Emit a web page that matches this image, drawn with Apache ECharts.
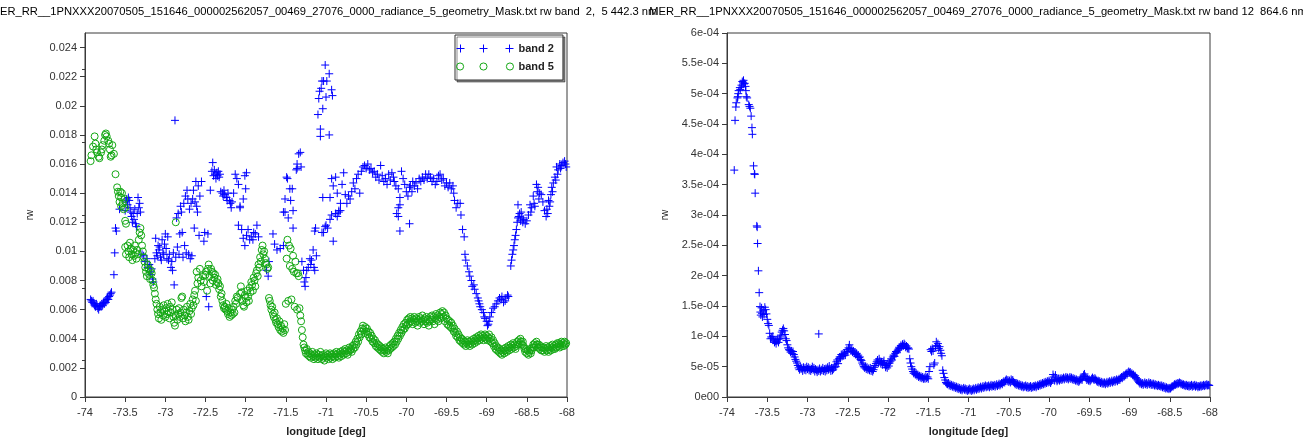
<!DOCTYPE html>
<html>
<head>
<meta charset="utf-8">
<script src="https://cdn.jsdelivr.net/npm/echarts@6/dist/echarts.min.js"></script>
<style>html,body{margin:0;padding:0;background:#fff;}#c{width:1303px;height:444px;}</style>
</head>
<body>
<div id="c"></div>
<script>
// ---------- titles / labels ----------
const leftTitle = "MER_RR__1PNXXX20070505_151646_000002562057_00469_27076_0000_radiance_5_geometry_Mask.txt rw band  2,  5 442.3 nm";
const rightTitle = "MER_RR__1PNXXX20070505_151646_000002562057_00469_27076_0000_radiance_5_geometry_Mask.txt rw band 12  864.6 nm";
const xName = "longitude [deg]";
const yName = "rw";
const legendNames = ["band 2", "band 5"];
const xTicks = [-74, -73.5, -73, -72.5, -72, -71.5, -71, -70.5, -70, -69.5, -69, -68.5, -68];
const leftYTicks = [0, 0.002, 0.004, 0.006, 0.008, 0.01, 0.012, 0.014, 0.016, 0.018, 0.02, 0.022, 0.024];
const rightYTicks = [0, 5e-5, 1e-4, 1.5e-4, 2e-4, 2.5e-4, 3e-4, 3.5e-4, 4e-4, 4.5e-4, 5e-4, 5.5e-4, 6e-4];
const rightYTickLabels = ["0e00", "5e-05", "1e-04", "1.5e-04", "2e-04", "2.5e-04", "3e-04", "3.5e-04", "4e-04", "4.5e-04", "5e-04", "5.5e-04", "6e-04"];

// ---------- band 2 (blue +), left panel: [longitude, rw] ----------
const band2 = [
[-73.93,0.0067],[-73.92,0.0066],[-73.91,0.0065],[-73.9,0.0066],[-73.89,0.0064],[-73.88,0.0063],[-73.87,0.0062],[-73.86,0.0064],[-73.85,0.0063],[-73.84,0.0061],[-73.83,0.0060],[-73.82,0.0062],[-73.81,0.0063],[-73.8,0.0062],[-73.79,0.0064],[-73.78,0.0063],[-73.77,0.0065],[-73.76,0.0064],[-73.75,0.0066],[-73.74,0.0065],[-73.73,0.0067],[-73.72,0.0068],[-73.71,0.0067],[-73.7,0.0069],[-73.69,0.0070],[-73.68,0.0071],[-73.67,0.0072],
[-73.64,0.0084],[-73.63,0.0099],[-73.62,0.0116],[-73.61,0.0114],
[-73.57,0.0129],[-73.5,0.0128],[-73.49,0.0134],[-73.48,0.0136],[-73.47,0.0132],[-73.46,0.0137],[-73.45,0.0135],[-73.44,0.0130],[-73.43,0.0127],[-73.42,0.0124],[-73.41,0.0120],[-73.4,0.0126],[-73.39,0.0122],[-73.38,0.0129],[-73.37,0.0119],[-73.36,0.0117],[-73.35,0.0126],[-73.34,0.0137],[-73.33,0.0130],[-73.32,0.0133],[-73.31,0.0127],
[-73.29,0.0098],[-73.27,0.0097],[-73.25,0.0093],[-73.23,0.0095],[-73.22,0.0089],[-73.2,0.0091],[-73.19,0.0086],[-73.18,0.0084],[-73.17,0.0088],[-73.16,0.0081],[-73.15,0.0079],
[-73.13,0.0095],[-73.12,0.0109],[-73.11,0.0099],[-73.1,0.0097],[-73.09,0.0104],[-73.08,0.0101],[-73.07,0.0103],[-73.06,0.0096],[-73.05,0.0094],[-73.04,0.0108],[-73.03,0.0099],[-73.02,0.0098],[-73.01,0.0105],[-73.0,0.0112],[-72.99,0.0102],[-72.98,0.0095],[-72.97,0.0110],[-72.96,0.0094],[-72.95,0.0098],[-72.93,0.0089],[-72.92,0.0093],[-72.91,0.0087],[-72.9,0.0099],[-72.89,0.0077],[-72.88,0.0190],[-72.87,0.0096],[-72.86,0.0123],[-72.85,0.0103],[-72.84,0.0126],[-72.83,0.0098],[-72.82,0.0112],[-72.81,0.0131],[-72.8,0.0127],[-72.79,0.0113],[-72.78,0.0096],[-72.77,0.0133],[-72.76,0.0104],[-72.75,0.0138],[-72.74,0.0099],[-72.73,0.0142],[-72.72,0.0136],[-72.71,0.0098],[-72.7,0.0129],[-72.69,0.0095],[-72.68,0.0133],[-72.67,0.0097],[-72.66,0.0136],[-72.65,0.0142],[-72.64,0.0116],[-72.63,0.0134],[-72.62,0.0148],[-72.61,0.0131],[-72.6,0.0127],[-72.59,0.0145],[-72.58,0.0111],[-72.57,0.0138],[-72.55,0.0148],
[-72.52,0.0107],[-72.51,0.0113],[-72.49,0.0069],[-72.46,0.0062],[-72.47,0.0112],
[-72.44,0.0142],[-72.42,0.0155],[-72.41,0.0161],[-72.4,0.0152],[-72.39,0.0156],[-72.38,0.0153],[-72.37,0.0150],[-72.36,0.0154],[-72.35,0.0152],[-72.34,0.0155],[-72.33,0.0151],[-72.32,0.0153],[-72.31,0.0141],[-72.29,0.0140],[-72.28,0.0138],[-72.27,0.0142],[-72.26,0.0139],[-72.24,0.0137],[-72.23,0.0135],[-72.22,0.0140],[-72.2,0.0135],[-72.19,0.0133],[-72.18,0.0130],[-72.17,0.0134],
[-72.15,0.0140],[-72.13,0.0153],[-72.11,0.0150],[-72.09,0.0146],[-72.07,0.0131],[-72.03,0.0136],[-72.01,0.0152],[-71.99,0.0154],[-72.0,0.0143],
[-72.09,0.0118],[-72.07,0.0130],[-72.05,0.0115],[-72.03,0.0109],[-72.01,0.0104],[-71.99,0.0111],[-71.97,0.0115],[-71.95,0.0108],[-71.93,0.0110],[-71.91,0.0108],[-71.9,0.0113],[-71.88,0.0112],[-71.86,0.0118],[-71.84,0.0110],
[-71.74,0.0087],[-71.72,0.0083],[-71.71,0.0093],[-71.66,0.0112],[-71.64,0.0105],[-71.61,0.0101],[-71.57,0.0102],[-71.53,0.0104],[-71.53,0.0127],[-71.47,0.0123],[-71.41,0.0116],
[-71.49,0.0151],[-71.48,0.0150],[-71.45,0.0143],[-71.42,0.0143],[-71.51,0.0136],[-71.44,0.0135],[-71.41,0.0128],[-71.51,0.0127],[-71.36,0.0160],[-71.36,0.0157],[-71.37,0.0156],[-71.34,0.0167],[-71.32,0.0168],[-71.31,0.0158],
[-71.3,0.0093],[-71.28,0.0087],[-71.27,0.0079],[-71.26,0.0076],[-71.25,0.0082],[-71.24,0.0087],[-71.22,0.0089],[-71.2,0.0095],[-71.19,0.0091],[-71.18,0.0094],[-71.16,0.0101],[-71.15,0.0089],[-71.14,0.0087],[-71.12,0.0097],[-71.13,0.0116],[-71.14,0.0114],[-71.05,0.0113],[-71.01,0.0117],
[-71.1,0.0194],[-71.09,0.0205],[-71.08,0.0210],[-71.07,0.0184],[-71.07,0.0179],[-71.05,0.0217],[-71.04,0.0198],[-71.03,0.0217],[-71.01,0.0228],[-71.0,0.0206],[-70.99,0.0217],[-70.96,0.0222],[-70.96,0.0180],[-70.93,0.0211],[-70.92,0.0207],[-71.06,0.0212],
[-71.03,0.0113],[-71.0,0.0118],[-70.98,0.0116],[-70.95,0.0122],[-70.93,0.0125],[-70.91,0.0107],[-70.88,0.0126],[-70.86,0.0124],[-70.84,0.0127],[-70.82,0.0128],
[-71.04,0.0137],[-70.95,0.0137],[-70.93,0.0150],[-70.91,0.0145],[-70.88,0.0151],[-70.86,0.0140],[-70.84,0.0128],[-70.82,0.0133],[-70.8,0.0146],[-70.78,0.0154],[-70.76,0.0139],[-70.74,0.0133],[-70.72,0.0138],[-70.7,0.0136],[-70.68,0.0141],[-70.66,0.0147],[-70.64,0.0143],[-70.62,0.0150],[-70.6,0.0153],[-70.58,0.0140],[-70.56,0.0155],[-70.54,0.0158],[-70.52,0.0159],[-70.5,0.0157],[-70.48,0.0160],[-70.46,0.0156],[-70.44,0.0157],[-70.42,0.0154],[-70.4,0.0155],[-70.38,0.0151],[-70.36,0.0153],[-70.34,0.0149],[-70.32,0.0159],[-70.3,0.0152],[-70.28,0.0148],[-70.26,0.0150],[-70.24,0.0146],[-70.22,0.0153],[-70.2,0.0149],[-70.18,0.0154],[-70.16,0.0151],[-70.15,0.0148],[-70.13,0.0145],[-70.1,0.0143],[-70.08,0.0137],[-70.1,0.0130],[-70.12,0.0126],[-70.08,0.0132],[-70.1,0.0124],[-70.08,0.0114],[-70.06,0.0155],[-70.04,0.0150],[-69.96,0.0119],
[-70.02,0.0146],[-70.0,0.0141],[-69.98,0.0138],[-69.96,0.0144],[-69.95,0.0145],[-69.93,0.0141],[-69.92,0.0148],[-69.9,0.0145],[-69.88,0.0147],[-69.86,0.0143],[-69.84,0.0150],[-69.82,0.0148],[-69.8,0.0151],[-69.78,0.0149],[-69.76,0.0153],[-69.74,0.0150],[-69.72,0.0153],[-69.7,0.0151],[-69.68,0.0148],[-69.66,0.0150],[-69.64,0.0146],[-69.62,0.0148],[-69.6,0.0152],[-69.58,0.0153],[-69.56,0.0149],[-69.54,0.0150],[-69.52,0.0145],[-69.5,0.0147],[-69.48,0.0144],[-69.46,0.0147],[-69.44,0.0143],[-69.42,0.0145],[-69.41,0.0140],[-69.4,0.0135],[-69.38,0.0130],[-69.36,0.0133],
[-69.33,0.0133],[-69.32,0.0125],[-69.3,0.0115],[-69.28,0.0110],[-69.27,0.0098],[-69.26,0.0094],[-69.24,0.0090],[-69.22,0.0086],[-69.21,0.0083],[-69.19,0.0080],[-69.18,0.0076],[-69.16,0.0077],[-69.15,0.0074],[-69.13,0.0071],[-69.11,0.0068],[-69.1,0.0066],[-69.09,0.0064],[-69.08,0.0062],[-69.06,0.0060],[-69.04,0.0058],[-69.03,0.0055],[-69.02,0.0054],[-69.0,0.0052],[-68.99,0.0049],[-68.98,0.0050],[-68.97,0.0052],[-68.96,0.0055],[-68.94,0.0058],[-68.92,0.0061],[-68.9,0.0062],[-68.88,0.0064],[-68.86,0.0066],[-68.84,0.0068],[-68.82,0.0067],[-68.81,0.0069],[-68.79,0.0065],[-68.77,0.0066],[-68.76,0.0068],[-68.74,0.0070],[-68.73,0.0069],
[-68.7,0.0090],[-68.69,0.0094],[-68.68,0.0098],[-68.67,0.0101],[-68.66,0.0104],[-68.65,0.0108],[-68.64,0.0111],[-68.63,0.0115],[-68.62,0.0120],[-68.61,0.0123],[-68.61,0.0132],[-68.6,0.0124],[-68.59,0.0126],[-68.58,0.0121],[-68.57,0.0127],[-68.56,0.0123],[-68.55,0.0120],[-68.54,0.0122],[-68.52,0.0119],[-68.5,0.0121],[-68.48,0.0125],[-68.46,0.0132],[-68.45,0.0127],[-68.44,0.0130],[-68.42,0.0138],[-68.41,0.0133],[-68.4,0.0131],[-68.38,0.0146],[-68.37,0.0141],[-68.36,0.0144],[-68.35,0.0136],[-68.34,0.0140],[-68.32,0.0139],[-68.3,0.0134],[-68.28,0.0128],[-68.26,0.0124],[-68.25,0.0129],[-68.24,0.0126],[-68.23,0.0135],[-68.22,0.0131],[-68.21,0.0134],[-68.2,0.0139],[-68.19,0.0144],[-68.18,0.0141],[-68.17,0.0147],[-68.15,0.0151],[-68.14,0.0149],[-68.13,0.0158],[-68.12,0.0153],[-68.11,0.0156],[-68.09,0.0160],[-68.08,0.0157],[-68.07,0.0159],[-68.05,0.0161],[-68.03,0.0162],[-68.02,0.0160],[-68.01,0.0158]
];

// ---------- band 5 (green o), left panel: [longitude, rw] ----------
const band5 = [
[-73.93,0.0162],[-73.92,0.0166],[-73.9,0.0172],[-73.88,0.0179],[-73.87,0.0174],[-73.86,0.0170],[-73.85,0.0168],[-73.83,0.0165],[-73.82,0.0164],[-73.8,0.0168],[-73.79,0.0170],[-73.78,0.0173],[-73.76,0.0176],[-73.75,0.0180],[-73.74,0.0181],[-73.73,0.0179],[-73.71,0.0176],[-73.7,0.0174],[-73.69,0.0170],[-73.68,0.0165],[-73.67,0.0166],[-73.66,0.0173],[-73.64,0.0167],[-73.62,0.0153],
[-73.6,0.0144],[-73.59,0.0141],[-73.58,0.0138],[-73.57,0.0134],[-73.56,0.0141],[-73.55,0.0131],[-73.55,0.0137],[-73.54,0.0140],[-73.53,0.0133],[-73.52,0.0129],[-73.51,0.0136],[-73.5,0.0130],[-73.5,0.0121],[-73.49,0.0119],
[-73.5,0.0103],[-73.49,0.0098],[-73.47,0.0104],[-73.46,0.0100],[-73.45,0.0096],[-73.44,0.0106],[-73.43,0.0102],[-73.42,0.0098],[-73.41,0.0094],[-73.4,0.0101],[-73.39,0.0097],[-73.38,0.0104],[-73.37,0.0099],[-73.36,0.0095],[-73.35,0.0101],[-73.34,0.0098],[-73.33,0.0108],[-73.32,0.0113],[-73.31,0.0116],[-73.3,0.0111],[-73.29,0.0104],[-73.28,0.0100],[-73.27,0.0096],
[-73.26,0.0093],[-73.25,0.0089],[-73.24,0.0086],[-73.23,0.0083],[-73.22,0.0091],[-73.21,0.0088],[-73.2,0.0084],[-73.19,0.0081],[-73.18,0.0087],[-73.17,0.0085],[-73.16,0.0080],[-73.15,0.0077],[-73.14,0.0075],[-73.13,0.0071],[-73.12,0.0067],[-73.11,0.0064],
[-73.1,0.0060],[-73.09,0.0057],[-73.08,0.0054],[-73.07,0.0062],[-73.06,0.0058],[-73.05,0.0053],[-73.04,0.0060],[-73.03,0.0056],[-73.02,0.0063],[-73.01,0.0059],[-73.0,0.0055],[-72.99,0.0061],[-72.98,0.0057],[-72.97,0.0064],[-72.96,0.0059],[-72.95,0.0054],[-72.94,0.0062],[-72.93,0.0058],[-72.92,0.0065],[-72.91,0.0060],[-72.9,0.0055],[-72.89,0.0051],[-72.88,0.0049],[-72.87,0.0120],[-72.87,0.0056],[-72.86,0.0060],[-72.85,0.0053],[-72.84,0.0057],[-72.83,0.0061],[-72.82,0.0055],[-72.81,0.0058],[-72.8,0.0068],[-72.79,0.0069],[-72.78,0.0054],[-72.77,0.0060],[-72.76,0.0056],[-72.75,0.0052],[-72.74,0.0058],[-72.73,0.0062],[-72.72,0.0055],[-72.71,0.0053],[-72.7,0.0059],[-72.69,0.0064],[-72.68,0.0057],[-72.67,0.0061],[-72.66,0.0067],[-72.65,0.0063],[-72.64,0.0070],[-72.63,0.0073],[-72.62,0.0066],
[-72.61,0.0086],[-72.6,0.0078],[-72.59,0.0082],[-72.57,0.0088],[-72.56,0.0080],[-72.55,0.0076],[-72.53,0.0083],[-72.52,0.0079],[-72.5,0.0084],[-72.49,0.0086],[-72.48,0.0073],[-72.47,0.0088],[-72.46,0.0091],[-72.45,0.0083],[-72.44,0.0078],[-72.43,0.0088],[-72.42,0.0086],[-72.41,0.0080],[-72.4,0.0085],[-72.39,0.0082],[-72.38,0.0084],[-72.37,0.0077],[-72.36,0.0079],[-72.35,0.0081],[-72.34,0.0078],[-72.33,0.0074],[-72.32,0.0076],[-72.31,0.0069],[-72.3,0.0071],
[-72.29,0.0066],[-72.28,0.0063],[-72.27,0.0061],[-72.26,0.0062],[-72.25,0.0060],[-72.24,0.0064],[-72.23,0.0059],[-72.22,0.0057],[-72.21,0.0061],[-72.2,0.0055],[-72.19,0.0058],[-72.18,0.0056],[-72.17,0.0060],[-72.16,0.0057],[-72.15,0.0062],[-72.14,0.0058],[-72.13,0.0066],[-72.12,0.0064],[-72.11,0.0069],[-72.1,0.0068],
[-72.07,0.0071],[-72.06,0.0076],[-72.05,0.0072],[-72.04,0.0066],[-72.03,0.0063],[-72.02,0.0062],[-72.01,0.0070],[-72.0,0.0068],[-71.99,0.0065],[-71.98,0.0073],[-71.97,0.0069],[-71.96,0.0066],[-71.95,0.0075],[-71.94,0.0072],[-71.93,0.0079],[-71.92,0.0077],[-71.91,0.0073],[-71.9,0.0082],[-71.89,0.0080],[-71.88,0.0076],[-71.87,0.0085],[-71.86,0.0087],[-71.85,0.0083],[-71.84,0.0091],[-71.83,0.0089],[-71.82,0.0096],[-71.81,0.0093],[-71.8,0.0101],[-71.79,0.0104],[-71.78,0.0098],[-71.77,0.0100],[-71.76,0.0095],[-71.75,0.0092],[-71.74,0.0091],[-71.73,0.0088],[-71.72,0.0089],
[-71.71,0.0068],[-71.7,0.0066],[-71.69,0.0063],[-71.68,0.0060],[-71.67,0.0062],[-71.66,0.0057],[-71.65,0.0055],[-71.64,0.0058],[-71.63,0.0053],[-71.62,0.0051],[-71.61,0.0054],[-71.6,0.0050],[-71.59,0.0048],[-71.58,0.0052],[-71.57,0.0046],[-71.56,0.0049],[-71.55,0.0045],[-71.54,0.0047],[-71.53,0.0044],[-71.52,0.0050],[-71.51,0.0046],
[-71.5,0.0064],[-71.49,0.0095],[-71.48,0.0108],[-71.47,0.0066],[-71.46,0.0104],[-71.45,0.0090],[-71.44,0.0102],[-71.43,0.0067],[-71.42,0.0088],[-71.41,0.0097],[-71.4,0.0086],[-71.39,0.0062],[-71.38,0.0093],[-71.37,0.0085],[-71.36,0.0060],[-71.35,0.0085],[-71.34,0.0083],[-71.33,0.0061],[-71.32,0.0056],[-71.31,0.0052],[-71.3,0.0046],[-71.29,0.0041],[-71.28,0.0036],[-71.27,0.0034],
[-71.26,0.0032],[-71.25,0.0030],[-71.24,0.0033],[-71.23,0.0029],[-71.22,0.0031],[-71.21,0.0028],[-71.2,0.0030],[-71.19,0.0027],[-71.18,0.0029],[-71.17,0.0031],[-71.16,0.0028],[-71.15,0.0026],[-71.14,0.0029],[-71.13,0.0027],[-71.12,0.0030],[-71.11,0.0028],[-71.1,0.0026],[-71.09,0.0029],[-71.08,0.0027],[-71.07,0.0031],[-71.06,0.0028],[-71.05,0.0026],[-71.04,0.0029],[-71.03,0.0027],[-71.02,0.0025],[-71.01,0.0028],[-71.0,0.0030],[-70.99,0.0027],[-70.98,0.0029],[-70.97,0.0026],[-70.96,0.0028],[-70.95,0.0030],[-70.94,0.0027],[-70.93,0.0029],[-70.92,0.0026],[-70.91,0.0028],[-70.9,0.0030],[-70.89,0.0027],[-70.88,0.0029],[-70.87,0.0031],[-70.86,0.0028],[-70.85,0.0030],[-70.84,0.0027],[-70.83,0.0029],[-70.82,0.0031],[-70.81,0.0028],[-70.8,0.0030],[-70.79,0.0032],[-70.78,0.0029],[-70.77,0.0031],[-70.76,0.0033],[-70.75,0.0030],[-70.74,0.0032],[-70.73,0.0029],[-70.72,0.0031],[-70.71,0.0034],[-70.7,0.0032],
[-70.69,0.0033],[-70.68,0.0031],[-70.67,0.0035],[-70.66,0.0033],[-70.65,0.0036],[-70.64,0.0034],[-70.63,0.0038],[-70.62,0.0036],[-70.61,0.0040],[-70.6,0.0038],[-70.59,0.0043],[-70.58,0.0041],[-70.57,0.0045],[-70.56,0.0043],[-70.55,0.0047],[-70.54,0.0049],[-70.53,0.0046],[-70.52,0.0044],[-70.51,0.0048],[-70.5,0.0045],[-70.49,0.0047],[-70.48,0.0043],[-70.47,0.0045],[-70.46,0.0041],[-70.45,0.0044],[-70.44,0.0040],[-70.43,0.0042],[-70.42,0.0038],[-70.41,0.0040],[-70.4,0.0037],[-70.39,0.0039],[-70.38,0.0035],[-70.37,0.0037],[-70.36,0.0034],[-70.35,0.0036],
[-70.34,0.0033],[-70.33,0.0035],[-70.32,0.0032],[-70.31,0.0034],[-70.3,0.0031],[-70.29,0.0033],[-70.28,0.0030],[-70.27,0.0032],[-70.26,0.0034],[-70.25,0.0031],[-70.24,0.0033],[-70.23,0.0030],[-70.22,0.0032],[-70.21,0.0035],[-70.2,0.0033],[-70.19,0.0036],[-70.18,0.0034],[-70.17,0.0037],[-70.16,0.0035],[-70.15,0.0038],[-70.14,0.0036],[-70.13,0.0040],[-70.12,0.0038],[-70.11,0.0042],[-70.1,0.0040],
[-70.09,0.0044],[-70.08,0.0042],[-70.07,0.0046],[-70.06,0.0044],[-70.05,0.0048],[-70.04,0.0046],[-70.03,0.0050],[-70.02,0.0047],[-70.01,0.0051],[-70.0,0.0049],[-69.99,0.0053],[-69.98,0.0050],[-69.97,0.0054],[-69.96,0.0051],[-69.95,0.0055],[-69.94,0.0052],[-69.93,0.0054],[-69.92,0.0050],[-69.91,0.0053],[-69.9,0.0055],[-69.89,0.0051],[-69.88,0.0054],[-69.87,0.0052],[-69.86,0.0049],[-69.85,0.0053],[-69.84,0.0055],[-69.83,0.0051],[-69.82,0.0054],[-69.81,0.0052],[-69.8,0.0056],[-69.79,0.0053],[-69.78,0.0050],[-69.77,0.0054],[-69.76,0.0052],[-69.75,0.0055],[-69.74,0.0051],[-69.73,0.0053],[-69.72,0.0049],[-69.71,0.0052],[-69.7,0.0055],[-69.69,0.0053],[-69.68,0.0056],[-69.67,0.0052],[-69.66,0.0055],[-69.65,0.0050],[-69.64,0.0054],[-69.63,0.0057],[-69.62,0.0053],[-69.61,0.0056],[-69.6,0.0052],[-69.59,0.0055],[-69.58,0.0058],[-69.57,0.0054],[-69.56,0.0057],[-69.55,0.0059],[-69.54,0.0055],[-69.53,0.0058],[-69.52,0.0052],[-69.51,0.0056],[-69.5,0.0054],[-69.49,0.0050],[-69.48,0.0053],[-69.47,0.0049],[-69.46,0.0052],[-69.45,0.0048],[-69.44,0.0051],[-69.43,0.0047],[-69.42,0.0049],[-69.41,0.0045],[-69.4,0.0047],
[-69.39,0.0044],[-69.38,0.0042],[-69.37,0.0045],[-69.36,0.0041],[-69.35,0.0043],[-69.34,0.0039],[-69.33,0.0041],[-69.32,0.0038],[-69.31,0.0040],[-69.3,0.0037],[-69.29,0.0039],[-69.28,0.0036],[-69.27,0.0038],[-69.26,0.0035],[-69.25,0.0037],[-69.24,0.0039],[-69.23,0.0036],[-69.22,0.0038],[-69.21,0.0035],[-69.2,0.0037],
[-69.19,0.0039],[-69.18,0.0036],[-69.17,0.0038],[-69.16,0.0040],[-69.15,0.0037],[-69.14,0.0039],[-69.13,0.0041],[-69.12,0.0038],[-69.11,0.0040],[-69.1,0.0042],[-69.09,0.0039],[-69.08,0.0041],[-69.07,0.0043],[-69.06,0.0040],[-69.05,0.0042],[-69.04,0.0039],[-69.03,0.0041],[-69.02,0.0043],[-69.01,0.0040],[-69.0,0.0042],[-68.99,0.0039],[-68.98,0.0041],[-68.97,0.0043],[-68.96,0.0040],[-68.95,0.0038],[-68.94,0.0041],[-68.93,0.0037],[-68.92,0.0039],[-68.91,0.0035],[-68.9,0.0037],
[-68.89,0.0033],[-68.88,0.0035],[-68.87,0.0032],[-68.86,0.0034],[-68.85,0.0031],[-68.84,0.0033],[-68.83,0.0030],[-68.82,0.0032],[-68.81,0.0029],[-68.8,0.0031],[-68.79,0.0033],[-68.78,0.0030],[-68.77,0.0032],[-68.76,0.0034],[-68.75,0.0031],[-68.74,0.0033],[-68.73,0.0035],[-68.72,0.0032],[-68.71,0.0034],[-68.7,0.0036],[-68.69,0.0033],[-68.68,0.0035],[-68.67,0.0037],[-68.66,0.0034],[-68.65,0.0036],[-68.64,0.0033],[-68.63,0.0035],[-68.62,0.0038],[-68.61,0.0036],[-68.6,0.0039],[-68.59,0.0037],[-68.58,0.0040],[-68.57,0.0038],[-68.56,0.0036],[-68.55,0.0038],[-68.54,0.0035],[-68.53,0.0033],[-68.52,0.0031],[-68.51,0.0033],[-68.5,0.0030],[-68.49,0.0032],[-68.48,0.0029],[-68.47,0.0031],[-68.46,0.0033],[-68.45,0.0030],[-68.44,0.0032],[-68.43,0.0034],[-68.42,0.0036],[-68.41,0.0034],[-68.4,0.0037],[-68.39,0.0035],[-68.38,0.0038],[-68.37,0.0036],[-68.36,0.0034],[-68.35,0.0036],[-68.34,0.0033],[-68.33,0.0035],[-68.32,0.0032],[-68.31,0.0034],[-68.3,0.0032],[-68.29,0.0034],[-68.28,0.0031],[-68.27,0.0033],[-68.26,0.0035],[-68.25,0.0032],[-68.24,0.0034],[-68.23,0.0031],[-68.22,0.0033],[-68.21,0.0035],[-68.2,0.0032],[-68.19,0.0034],[-68.18,0.0036],[-68.17,0.0033],[-68.16,0.0035],[-68.15,0.0033],[-68.14,0.0036],[-68.13,0.0034],[-68.12,0.0037],[-68.11,0.0035],[-68.1,0.0037],[-68.09,0.0034],[-68.08,0.0036],[-68.07,0.0038],[-68.06,0.0035],[-68.05,0.0037],[-68.04,0.0035],[-68.03,0.0038],[-68.02,0.0036],[-68.01,0.0037]
];

// ---------- band 12 (blue +), right panel: [longitude, rw] ----------
const band12 = [
[-73.91,3.74e-4],[-73.90,4.56e-4],[-73.89,4.78e-4],[-73.885,4.85e-4],[-73.87,4.93e-4],[-73.865,4.95e-4],[-73.86,5.00e-4],[-73.855,5.05e-4],[-73.84,5.10e-4],[-73.835,5.07e-4],[-73.82,5.14e-4],[-73.81,5.20e-4],[-73.80,5.18e-4],[-73.795,5.22e-4],[-73.79,5.16e-4],[-73.78,5.17e-4],[-73.77,5.12e-4],[-73.765,5.05e-4],[-73.76,4.95e-4],[-73.75,4.93e-4],[-73.73,4.82e-4],[-73.72,4.79e-4],[-73.71,4.76e-4],[-73.70,4.63e-4],[-73.69,4.44e-4],[-73.685,4.33e-4],[-73.67,3.81e-4],[-73.66,3.68e-4],[-73.655,3.67e-4],[-73.65,3.36e-4],[-73.63,2.82e-4],[-73.625,2.80e-4],[-73.62,2.53e-4],[-73.61,2.08e-4],[-73.60,1.72e-4],[-73.59,1.49e-4],[-73.585,1.40e-4],[-73.58,1.35e-4],[-73.57,1.47e-4],[-73.565,1.38e-4],[-73.56,1.32e-4],[-73.55,1.42e-4],[-73.54,1.36e-4],[-73.53,1.48e-4],[-73.52,1.44e-4],[-73.51,1.37e-4],[-73.50,1.28e-4],[-73.49,1.21e-4],[-73.48,1.18e-4],[-73.47,1.05e-4],[-73.46,9.6e-5],[-73.45,9.9e-5],[-73.44,9.7e-5],[-73.43,1.0e-4],[-73.42,9.4e-5],[-73.41,9.0e-5],[-73.40,9.2e-5],[-73.39,8.8e-5],[-73.38,9.2e-5],[-73.37,9.5e-5],[-73.36,9.0e-5],[-73.35,9.6e-5],[-73.34,9.9e-5],[-73.33,1.02e-4],[-73.32,1.07e-4],[-73.31,1.10e-4],[-73.30,1.13e-4],[-73.29,1.09e-4],[-73.28,1.03e-4],[-73.27,9.6e-5],[-73.26,9.3e-5],[-73.25,8.6e-5],[-73.24,8.1e-5],[-73.23,7.8e-5],[-73.22,7.7e-5],[-73.21,7.4e-5],[-73.20,7.6e-5],[-73.19,7.2e-5],[-73.18,7.5e-5],[-73.17,7.0e-5],[-73.16,6.6e-5],[-73.15,6.2e-5],[-73.14,5.9e-5],[-73.13,5.6e-5],[-73.12,5.2e-5],[-73.11,4.8e-5],[-73.10,4.5e-5],[-73.09,5.0e-5],[-73.08,4.6e-5],[-73.07,4.8e-5],[-73.06,4.3e-5],[-73.05,4.9e-5],[-73.04,4.5e-5],[-73.03,4.8e-5],[-73.02,4.4e-5],[-73.01,5.0e-5],[-73.00,4.6e-5],[-72.99,4.9e-5],[-72.98,4.4e-5],[-72.97,4.7e-5],[-72.96,4.3e-5],[-72.95,4.6e-5],[-72.94,5.0e-5],[-72.93,4.5e-5],[-72.92,4.8e-5],[-72.91,4.2e-5],[-72.90,4.6e-5],[-72.89,4.4e-5],[-72.88,4.1e-5],[-72.87,4.5e-5],[-72.86,1.04e-4],[-72.86,4.3e-5],[-72.85,4.7e-5],[-72.84,4.2e-5],[-72.83,4.5e-5],[-72.82,4.4e-5],[-72.81,4.8e-5],[-72.80,4.3e-5],[-72.79,4.6e-5],[-72.78,4.2e-5],[-72.77,4.7e-5],[-72.76,4.4e-5],[-72.75,4.9e-5],[-72.74,4.5e-5],[-72.73,5.1e-5],[-72.72,4.6e-5],[-72.71,4.3e-5],[-72.70,4.8e-5],[-72.69,4.4e-5],[-72.68,4.6e-5],[-72.67,4.9e-5],[-72.66,5.3e-5],[-72.65,5.0e-5],[-72.64,5.8e-5],[-72.63,6.1e-5],[-72.62,5.5e-5],[-72.61,6.3e-5],[-72.60,6.6e-5],[-72.59,6.4e-5],[-72.58,7.0e-5],[-72.57,6.7e-5],[-72.56,7.1e-5],[-72.55,6.8e-5],[-72.54,7.2e-5],[-72.53,6.9e-5],[-72.52,7.4e-5],[-72.51,7.8e-5],[-72.50,7.5e-5],[-72.49,8.1e-5],[-72.48,8.6e-5],[-72.47,8.0e-5],[-72.46,7.6e-5],[-72.45,7.9e-5],[-72.44,7.4e-5],[-72.43,7.6e-5],[-72.42,7.2e-5],[-72.41,7.4e-5],[-72.40,7.0e-5],[-72.39,7.2e-5],[-72.38,6.7e-5],[-72.37,6.9e-5],[-72.36,6.5e-5],[-72.35,6.6e-5],[-72.34,6.2e-5],[-72.33,6.0e-5],[-72.32,5.6e-5],[-72.31,5.3e-5],[-72.30,5.0e-5],[-72.29,4.8e-5],[-72.28,5.0e-5],[-72.27,4.6e-5],[-72.26,4.9e-5],[-72.25,4.5e-5],[-72.24,4.7e-5],[-72.23,4.4e-5],[-72.22,4.8e-5],[-72.21,4.3e-5],[-72.20,4.6e-5],[-72.19,4.2e-5],[-72.18,4.5e-5],[-72.17,4.9e-5],[-72.16,5.2e-5],[-72.15,5.5e-5],[-72.14,5.8e-5],[-72.13,6.1e-5],[-72.12,5.6e-5],[-72.11,6.3e-5],[-72.10,5.9e-5],[-72.09,5.5e-5],[-72.08,5.8e-5],[-72.07,5.3e-5],[-72.06,5.7e-5],[-72.05,6.0e-5],[-72.04,5.4e-5],[-72.03,4.9e-5],[-72.02,5.2e-5],[-72.01,4.8e-5],[-72.00,5.5e-5],[-71.99,5.1e-5],[-71.98,5.6e-5],[-71.97,5.9e-5],[-71.96,6.3e-5],[-71.95,6.1e-5],[-71.94,6.6e-5],[-71.93,6.9e-5],[-71.92,6.7e-5],[-71.91,7.2e-5],[-71.90,7.5e-5],[-71.89,7.3e-5],[-71.88,7.7e-5],[-71.87,7.9e-5],[-71.86,8.2e-5],[-71.85,8.0e-5],[-71.84,8.5e-5],[-71.83,8.3e-5],[-71.82,8.7e-5],[-71.81,8.4e-5],[-71.80,8.8e-5],[-71.79,8.6e-5],[-71.78,8.2e-5],[-71.77,8.4e-5],[-71.76,8.0e-5],[-71.75,8.1e-5],[-71.74,7.9e-5],[-71.73,6.3e-5],[-71.72,5.6e-5],[-71.71,5.0e-5],[-71.70,4.6e-5],[-71.69,4.2e-5],[-71.68,3.9e-5],[-71.67,4.1e-5],[-71.66,3.7e-5],[-71.65,3.9e-5],[-71.64,3.5e-5],[-71.63,3.7e-5],[-71.62,3.3e-5],[-71.61,3.5e-5],[-71.60,3.2e-5],[-71.59,3.4e-5],[-71.58,3.1e-5],[-71.57,3.3e-5],[-71.56,3.0e-5],[-71.55,3.2e-5],[-71.54,3.0e-5],[-71.53,3.4e-5],[-71.52,3.1e-5],[-71.51,3.3e-5],[-71.50,3.0e-5],[-71.49,4.2e-5],[-71.48,5.0e-5],[-71.47,7.8e-5],[-71.46,7.5e-5],[-71.45,8.0e-5],[-71.44,7.6e-5],[-71.43,5.3e-5],[-71.42,5.6e-5],[-71.41,8.3e-5],[-71.40,9.1e-5],[-71.39,8.5e-5],[-71.38,8.8e-5],[-71.37,8.0e-5],[-71.36,8.3e-5],[-71.35,7.7e-5],[-71.34,7.2e-5],[-71.33,6.8e-5],[-71.32,4.4e-5],[-71.31,3.9e-5],[-71.30,3.2e-5],[-71.29,2.8e-5],[-71.28,2.4e-5],[-71.27,2.2e-5],[-71.26,2.1e-5],[-71.25,2.3e-5],[-71.24,1.9e-5],[-71.23,2.1e-5],[-71.22,1.8e-5],[-71.21,2.0e-5],[-71.20,1.7e-5],[-71.19,1.9e-5],[-71.18,1.6e-5],[-71.17,1.8e-5],[-71.16,1.5e-5],[-71.15,1.7e-5],[-71.14,1.4e-5],[-71.13,1.6e-5],[-71.12,1.3e-5],[-71.11,1.5e-5],[-71.10,1.2e-5],[-71.09,1.4e-5],[-71.08,1.1e-5],[-71.07,1.3e-5],[-71.06,1.5e-5],[-71.05,1.2e-5],[-71.04,1.4e-5],[-71.03,1.1e-5],[-71.02,1.3e-5],[-71.01,1.0e-5],[-71.00,1.2e-5],[-70.99,1.4e-5],[-70.98,1.1e-5],[-70.97,1.3e-5],[-70.96,1.0e-5],[-70.95,1.2e-5],[-70.94,1.4e-5],[-70.93,1.1e-5],[-70.92,1.3e-5],[-70.91,1.5e-5],[-70.90,1.2e-5],[-70.89,1.4e-5],[-70.88,1.6e-5],[-70.87,1.3e-5],[-70.86,1.5e-5],[-70.85,1.7e-5],[-70.84,1.4e-5],[-70.83,1.6e-5],[-70.82,1.8e-5],[-70.81,1.5e-5],[-70.80,1.7e-5],[-70.79,1.9e-5],[-70.78,1.6e-5],[-70.77,1.8e-5],[-70.76,1.7e-5],[-70.75,1.9e-5],[-70.74,1.6e-5],[-70.73,1.8e-5],[-70.72,2.0e-5],[-70.71,1.7e-5],[-70.70,1.9e-5],[-70.69,1.8e-5],[-70.68,2.0e-5],[-70.67,1.7e-5],[-70.66,1.9e-5],[-70.65,2.1e-5],[-70.64,1.8e-5],[-70.63,2.0e-5],[-70.62,2.2e-5],[-70.61,1.9e-5],[-70.60,2.1e-5],[-70.59,2.3e-5],[-70.58,2.1e-5],[-70.57,2.4e-5],[-70.56,2.6e-5],[-70.55,2.4e-5],[-70.54,2.7e-5],[-70.53,2.9e-5],[-70.52,2.6e-5],[-70.51,2.8e-5],[-70.50,2.5e-5],[-70.49,2.7e-5],[-70.48,2.4e-5],[-70.47,2.9e-5],[-70.46,2.6e-5],[-70.45,2.8e-5],[-70.44,2.5e-5],[-70.43,2.3e-5],[-70.42,2.1e-5],[-70.41,2.3e-5],[-70.40,2.0e-5],[-70.39,2.2e-5],[-70.38,1.9e-5],[-70.37,2.1e-5],[-70.36,1.8e-5],[-70.35,2.0e-5],[-70.34,1.7e-5],[-70.33,1.9e-5],[-70.32,1.6e-5],[-70.31,1.8e-5],[-70.30,1.7e-5],[-70.29,1.9e-5],[-70.28,1.6e-5],[-70.27,1.8e-5],[-70.26,1.5e-5],[-70.25,1.7e-5],[-70.24,1.6e-5],[-70.23,1.8e-5],[-70.22,1.5e-5],[-70.21,1.7e-5],[-70.20,1.6e-5],[-70.19,1.8e-5],[-70.18,1.7e-5],[-70.17,1.9e-5],[-70.16,1.6e-5],[-70.15,1.8e-5],[-70.14,2.0e-5],[-70.13,1.8e-5],[-70.12,2.1e-5],[-70.11,1.9e-5],[-70.10,2.2e-5],[-70.09,2.0e-5],[-70.08,2.3e-5],[-70.07,2.1e-5],[-70.06,2.4e-5],[-70.05,2.2e-5],[-70.04,2.5e-5],[-70.03,2.3e-5],[-70.02,2.6e-5],[-70.01,2.4e-5],[-70.00,2.7e-5],[-69.99,2.5e-5],[-69.98,2.3e-5],[-69.97,2.6e-5],[-69.96,2.8e-5],[-69.95,3.7e-5],[-69.94,3.3e-5],[-69.93,2.7e-5],[-69.92,3.6e-5],[-69.91,2.9e-5],[-69.90,2.6e-5],[-69.89,2.8e-5],[-69.88,3.0e-5],[-69.87,2.7e-5],[-69.86,2.9e-5],[-69.85,3.1e-5],[-69.84,2.8e-5],[-69.83,3.0e-5],[-69.82,3.2e-5],[-69.81,2.9e-5],[-69.80,3.1e-5],[-69.79,3.3e-5],[-69.78,3.0e-5],[-69.77,3.2e-5],[-69.76,2.9e-5],[-69.75,3.1e-5],[-69.74,3.3e-5],[-69.73,3.0e-5],[-69.72,3.2e-5],[-69.71,2.9e-5],[-69.70,3.1e-5],[-69.69,2.8e-5],[-69.68,3.0e-5],[-69.67,2.7e-5],[-69.66,2.9e-5],[-69.65,2.6e-5],[-69.64,2.8e-5],[-69.63,2.5e-5],[-69.62,2.7e-5],[-69.61,2.9e-5],[-69.60,3.1e-5],[-69.59,2.8e-5],[-69.58,3.3e-5],[-69.57,3.6e-5],[-69.56,3.8e-5],[-69.55,3.4e-5],[-69.54,3.1e-5],[-69.53,2.8e-5],[-69.52,3.0e-5],[-69.51,2.7e-5],[-69.50,2.9e-5],[-69.49,2.6e-5],[-69.48,2.8e-5],[-69.47,3.0e-5],[-69.46,3.2e-5],[-69.45,3.0e-5],[-69.44,2.8e-5],[-69.43,3.1e-5],[-69.42,2.9e-5],[-69.41,2.7e-5],[-69.40,2.5e-5],[-69.39,2.7e-5],[-69.38,2.4e-5],[-69.37,2.6e-5],[-69.36,2.3e-5],[-69.35,2.5e-5],[-69.34,2.2e-5],[-69.33,2.4e-5],[-69.32,2.2e-5],[-69.31,2.4e-5],[-69.30,2.1e-5],[-69.29,2.3e-5],[-69.28,2.5e-5],[-69.27,2.2e-5],[-69.26,2.4e-5],[-69.25,2.6e-5],[-69.24,2.3e-5],[-69.23,2.5e-5],[-69.22,2.7e-5],[-69.21,2.4e-5],[-69.20,2.6e-5],[-69.19,2.8e-5],[-69.18,2.5e-5],[-69.17,2.7e-5],[-69.16,2.9e-5],[-69.15,2.6e-5],[-69.14,2.8e-5],[-69.13,3.0e-5],[-69.12,2.8e-5],[-69.11,3.1e-5],[-69.10,3.3e-5],[-69.09,3.1e-5],[-69.08,3.4e-5],[-69.07,3.6e-5],[-69.06,3.4e-5],[-69.05,3.7e-5],[-69.04,3.9e-5],[-69.03,3.7e-5],[-69.02,4.0e-5],[-69.01,4.2e-5],[-69.00,4.0e-5],[-68.99,4.1e-5],[-68.98,3.8e-5],[-68.97,3.9e-5],[-68.96,3.6e-5],[-68.95,3.7e-5],[-68.94,3.4e-5],[-68.93,3.5e-5],[-68.92,3.2e-5],[-68.91,3.0e-5],[-68.90,2.8e-5],[-68.89,2.6e-5],[-68.88,2.4e-5],[-68.87,2.2e-5],[-68.86,2.4e-5],[-68.85,2.1e-5],[-68.84,2.3e-5],[-68.83,2.0e-5],[-68.82,2.2e-5],[-68.81,2.4e-5],[-68.80,2.1e-5],[-68.79,2.3e-5],[-68.78,2.0e-5],[-68.77,2.2e-5],[-68.76,2.4e-5],[-68.75,2.1e-5],[-68.74,2.3e-5],[-68.73,2.0e-5],[-68.72,2.2e-5],[-68.71,2.0e-5],[-68.70,2.2e-5],[-68.69,1.9e-5],[-68.68,2.1e-5],[-68.67,1.9e-5],[-68.66,2.0e-5],[-68.65,1.8e-5],[-68.64,2.0e-5],[-68.63,1.8e-5],[-68.62,1.9e-5],[-68.61,1.7e-5],[-68.60,1.9e-5],[-68.59,1.6e-5],[-68.58,1.8e-5],[-68.57,1.5e-5],[-68.56,1.7e-5],[-68.55,1.4e-5],[-68.54,1.6e-5],[-68.53,1.4e-5],[-68.52,1.5e-5],[-68.51,1.3e-5],[-68.50,1.5e-5],[-68.49,1.4e-5],[-68.48,1.6e-5],[-68.47,1.8e-5],[-68.46,1.7e-5],[-68.45,1.9e-5],[-68.44,2.1e-5],[-68.43,2.0e-5],[-68.42,2.2e-5],[-68.41,2.1e-5],[-68.40,2.3e-5],[-68.39,2.2e-5],[-68.38,2.4e-5],[-68.37,2.3e-5],[-68.36,2.1e-5],[-68.35,2.2e-5],[-68.34,2.0e-5],[-68.33,2.1e-5],[-68.32,1.9e-5],[-68.31,2.0e-5],[-68.30,1.8e-5],[-68.29,2.0e-5],[-68.28,1.8e-5],[-68.27,1.9e-5],[-68.26,1.7e-5],[-68.25,1.9e-5],[-68.24,1.8e-5],[-68.23,2.0e-5],[-68.22,1.7e-5],[-68.21,1.9e-5],[-68.20,1.8e-5],[-68.19,2.0e-5],[-68.18,1.7e-5],[-68.17,1.9e-5],[-68.16,1.8e-5],[-68.15,1.6e-5],[-68.14,1.8e-5],[-68.13,1.7e-5],[-68.12,1.9e-5],[-68.11,1.7e-5],[-68.10,1.9e-5],[-68.09,1.8e-5],[-68.08,2.0e-5],[-68.07,1.8e-5],[-68.06,2.0e-5],[-68.05,1.9e-5],[-68.04,2.1e-5],[-68.03,1.9e-5],[-68.02,2.0e-5],[-68.01,1.9e-5]
];

// ---------- styles ----------
const BLUE = '#0000ff';
const GREEN = '#14a814';
const AXIS = '#3a3a3a';
const FONT = '"Liberation Sans", Arial, sans-serif';
const TICKFONT = { fontFamily: FONT, fontSize: 11, color: '#333' };
const plusSymbol = 'path://M0,5L10,5M5,0L5,10';
const plusLegendIcon = 'path://M0,4L8,4M4,0L4,8M23,4L31,4M27,0L27,8M49,4L57,4M53,0L53,8';
const ringLegendIcon = 'path://M7.5,4A3.5,3.5,0,1,1,0.5,4A3.5,3.5,0,1,1,7.5,4M30.5,4A3.5,3.5,0,1,1,23.5,4A3.5,3.5,0,1,1,30.5,4M56.5,4A3.5,3.5,0,1,1,49.5,4A3.5,3.5,0,1,1,56.5,4';

function xAxisFor(gridIndex) {
  return {
    type: 'value', gridIndex, min: xTicks[0], max: xTicks[xTicks.length - 1], interval: 0.5,
    name: xName, nameLocation: 'middle', nameGap: 29,
    nameTextStyle: { fontFamily: FONT, fontSize: 11, fontWeight: 'bold', color: '#222' },
    axisLine: { show: true, onZero: false, lineStyle: { color: AXIS, width: 1 } },
    axisTick: { show: true, inside: false, length: 5, lineStyle: { color: AXIS } },
    axisLabel: Object.assign({ margin: 10 }, TICKFONT),
    splitLine: { show: false }
  };
}

const chart = echarts.init(document.getElementById('c'), null, { renderer: 'canvas' });
chart.setOption({
  animation: false,
  backgroundColor: '#fff',
  grid: [
    { left: 85, top: 33, width: 482, height: 364, show: true, borderColor: AXIS, borderWidth: 1, backgroundColor: 'transparent' },
    { left: 727, top: 33, width: 483, height: 364, show: true, borderColor: AXIS, borderWidth: 1, backgroundColor: 'transparent' }
  ],
  xAxis: [xAxisFor(0), xAxisFor(1)],
  yAxis: [
    {
      type: 'value', gridIndex: 0, min: 0, max: 0.025,
      name: yName, nameLocation: 'middle', nameGap: 50, nameRotate: 90,
      nameTextStyle: { fontFamily: FONT, fontSize: 10, color: '#222' },
      axisLine: { show: true, lineStyle: { color: AXIS } },
      axisTick: { show: true, length: 5, customValues: leftYTicks, lineStyle: { color: AXIS } },
      minorTick: { show: true, splitNumber: 2, length: 3, lineStyle: { color: AXIS } },
      axisLabel: Object.assign({ margin: 8, customValues: leftYTicks, formatter: v => String(+v.toFixed(3)) }, TICKFONT),
      splitLine: { show: false }
    },
    {
      type: 'value', gridIndex: 1, min: 0, max: rightYTicks[rightYTicks.length - 1],
      name: yName, nameLocation: 'middle', nameGap: 57, nameRotate: 90,
      nameTextStyle: { fontFamily: FONT, fontSize: 10, color: '#222' },
      axisLine: { show: true, lineStyle: { color: AXIS } },
      axisTick: { show: true, length: 5, customValues: rightYTicks, lineStyle: { color: AXIS } },
      axisLabel: Object.assign({
        margin: 8, customValues: rightYTicks,
        formatter: v => { const i = rightYTicks.findIndex(t => Math.abs(t - v) < 1e-9); return i >= 0 ? rightYTickLabels[i] : ''; }
      }, TICKFONT),
      splitLine: { show: false }
    }
  ],
  legend: {
    orient: 'vertical', left: 455, top: 35,
    padding: [8, 9, 8, 1], itemGap: 7, itemWidth: 57, itemHeight: 8,
    backgroundColor: '#fff', borderColor: '#333', borderWidth: 1,
    shadowColor: 'rgba(0,0,0,0.45)', shadowOffsetX: 2, shadowOffsetY: 2, shadowBlur: 0,
    textStyle: { fontFamily: FONT, fontSize: 11, fontWeight: 'bold', color: '#222' },
    selectedMode: false,
    data: [
      { name: legendNames[0], icon: plusLegendIcon, itemStyle: { color: 'transparent', borderColor: BLUE, borderWidth: 1 } },
      { name: legendNames[1], icon: ringLegendIcon, itemStyle: { color: 'transparent', borderColor: GREEN, borderWidth: 1 } }
    ]
  },
  graphic: [
    { type: 'text', x: 324, y: 12, style: { text: leftTitle, textAlign: 'center', textVerticalAlign: 'middle', font: '11.2px "Liberation Sans", Arial, sans-serif', fill: '#000' } },
    { type: 'text', x: 978, y: 12, style: { text: rightTitle, textAlign: 'center', textVerticalAlign: 'middle', font: '11.2px "Liberation Sans", Arial, sans-serif', fill: '#000' } }
  ],
  series: [
    {
      name: legendNames[0], type: 'scatter', xAxisIndex: 0, yAxisIndex: 0, data: band2,
      symbol: plusSymbol, symbolSize: 8,
      itemStyle: { color: 'transparent', borderColor: BLUE, borderWidth: 1, opacity: 1 },
      emphasis: { disabled: true }
    },
    {
      name: legendNames[1], type: 'scatter', xAxisIndex: 0, yAxisIndex: 0, data: band5,
      symbol: 'circle', symbolSize: 7,
      itemStyle: { color: 'transparent', borderColor: GREEN, borderWidth: 1, opacity: 1 },
      emphasis: { disabled: true }
    },
    {
      name: 'band 12', type: 'scatter', xAxisIndex: 1, yAxisIndex: 1, data: band12,
      symbol: plusSymbol, symbolSize: 8,
      itemStyle: { color: 'transparent', borderColor: BLUE, borderWidth: 1, opacity: 1 },
      emphasis: { disabled: true }
    }
  ]
});
</script>
</body>
</html>
